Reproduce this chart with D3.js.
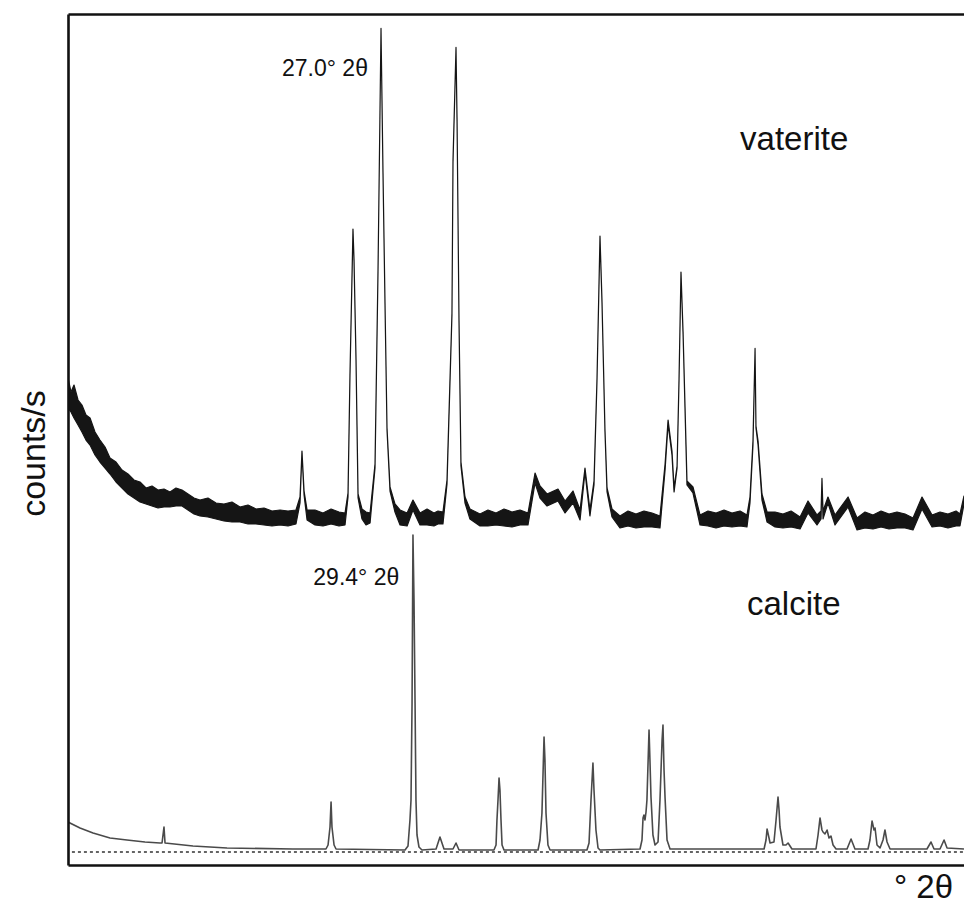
<!DOCTYPE html>
<html>
<head>
<meta charset="utf-8">
<script src="https://cdn.jsdelivr.net/npm/d3@7"></script>
<style>
  body { margin: 0; background: #fff; }
  text { font-family: 'Liberation Sans', Arial, Helvetica, sans-serif; fill: #111; }
</style>
</head>
<body>
<div id="chart"></div>
<script>
// vaterite pattern: [2theta, lower edge of noise, upper edge of noise] in counts/s
const vaterite = [
  [3.00, 2285, 2435], [3.23, 2265, 2365], [3.46, 2235, 2400], [3.77, 2200, 2325],
  [4.07, 2165, 2300], [4.38, 2125, 2250], [4.69, 2100, 2235], [5.07, 2050, 2165],
  [5.45, 2015, 2125], [5.84, 1985, 2090], [6.22, 1955, 2035], [6.68, 1915, 2015],
  [7.14, 1885, 1975], [7.60, 1855, 1955], [8.06, 1835, 1925], [8.52, 1815, 1915],
  [8.98, 1805, 1885], [9.44, 1795, 1895], [9.90, 1785, 1875], [10.36, 1790, 1880],
  [10.82, 1790, 1865], [11.28, 1795, 1885], [11.74, 1795, 1875], [12.20, 1775, 1855],
  [12.66, 1755, 1835], [13.12, 1745, 1825], [13.73, 1740, 1835], [14.35, 1730, 1810],
  [14.96, 1720, 1805], [15.57, 1715, 1815], [16.19, 1715, 1790], [16.80, 1705, 1800],
  [17.41, 1705, 1780], [18.03, 1700, 1785], [18.64, 1695, 1770], [19.26, 1700, 1775],
  [19.87, 1695, 1770], [20.48, 1705, 1775],
  [20.79, 1810, 1840], [20.94, 2060, 2070], [21.10, 1850, 1870], [21.33, 1725, 1775],
  [21.94, 1700, 1775], [22.55, 1695, 1760], [23.17, 1705, 1780], [23.78, 1695, 1765],
  [24.24, 1700, 1760],
  [24.47, 1840, 1860], [24.62, 2445, 2455], [24.85, 3170, 3180], [24.93, 3020, 3030],
  [25.08, 2535, 2545], [25.24, 1835, 1855], [25.54, 1730, 1780], [25.85, 1700, 1765],
  [26.16, 1710, 1760],
  [26.54, 1985, 2005], [26.77, 2965, 2975], [27.00, 4177, 4183], [27.15, 3465, 3475],
  [27.31, 2785, 2795], [27.46, 2175, 2185], [27.69, 1870, 1890], [28.07, 1765, 1805],
  [28.46, 1700, 1775], [29.00, 1695, 1760], [29.45, 1775, 1825], [29.99, 1700, 1760],
  [30.53, 1700, 1780], [31.06, 1695, 1760], [31.37, 1705, 1770], [31.75, 1705, 1765],
  [32.06, 1905, 1925], [32.44, 2750, 2760], [32.52, 3515, 3525], [32.75, 4082, 4088],
  [32.83, 3720, 3730], [32.98, 2715, 2725], [33.13, 1995, 2015], [33.44, 1810, 1840],
  [33.82, 1730, 1780], [34.59, 1695, 1755], [35.20, 1695, 1775], [35.82, 1700, 1760],
  [36.43, 1695, 1780], [37.04, 1690, 1765], [37.66, 1700, 1775], [38.27, 1700, 1760],
  [38.81, 1910, 1960], [39.19, 1835, 1895], [39.73, 1795, 1855], [40.57, 1820, 1880],
  [41.11, 1760, 1820], [41.72, 1810, 1870], [42.26, 1725, 1775], [42.64, 1965, 1985],
  [43.02, 1745, 1775], [43.33, 1900, 1920], [43.56, 2420, 2430], [43.79, 3135, 3145],
  [43.94, 2820, 2830], [44.17, 2170, 2180], [44.33, 1865, 1885], [44.71, 1740, 1780],
  [45.32, 1685, 1745], [45.94, 1695, 1770], [46.55, 1685, 1755], [47.16, 1690, 1770],
  [47.78, 1690, 1760], [48.39, 1685, 1745],
  [48.78, 1975, 2005], [49.01, 2205, 2225], [49.31, 2050, 2070], [49.47, 1865, 1885],
  [49.70, 1985, 1995], [49.85, 2420, 2430], [50.00, 2955, 2965], [50.16, 2655, 2665],
  [50.46, 1900, 1920], [50.92, 1860, 1890], [51.46, 1700, 1750], [52.07, 1695, 1770],
  [52.69, 1685, 1760], [53.30, 1695, 1775], [53.91, 1690, 1760], [54.53, 1695, 1770],
  [55.06, 1690, 1750], [55.29, 1810, 1840], [55.52, 2100, 2120], [55.68, 2577, 2583],
  [55.75, 2185, 2195], [55.91, 2100, 2120], [56.21, 1825, 1855], [56.60, 1715, 1765],
  [57.21, 1690, 1765], [57.82, 1685, 1755], [58.44, 1690, 1770], [59.13, 1680, 1740],
  [59.74, 1760, 1820], [60.43, 1700, 1750], [60.74, 1730, 1770], [60.81, 1927, 1933],
  [60.89, 1730, 1770], [61.27, 1810, 1840], [61.81, 1700, 1750], [62.81, 1790, 1840],
  [63.50, 1675, 1735], [64.11, 1685, 1765], [64.72, 1680, 1750], [65.34, 1690, 1770],
  [65.95, 1680, 1755], [66.56, 1685, 1765], [67.18, 1685, 1755], [67.79, 1675, 1735],
  [68.48, 1780, 1840], [69.25, 1690, 1750], [69.86, 1695, 1765], [70.47, 1685, 1755],
  [71.09, 1695, 1770], [71.39, 1695, 1755], [71.70, 1805, 1845]
]

// calcite pattern: [2theta, counts/s]
const calcite = [
  [3.00, 215], [3.92, 185], [4.92, 160], [6.22, 135], [7.52, 125], [8.90, 115],
  [10.05, 110], [10.21, 110], [10.36, 190], [10.44, 110], [12.58, 95], [15.19, 85],
  [20.25, 80], [22.78, 80], [22.94, 100], [23.09, 190], [23.17, 315], [23.24, 190],
  [23.40, 100], [23.55, 80], [28.84, 75], [29.07, 95], [29.22, 225], [29.30, 325],
  [29.38, 810], [29.45, 1650], [29.53, 1325], [29.61, 810], [29.68, 325], [29.76, 150],
  [29.91, 90], [30.14, 75], [31.22, 80], [31.52, 140], [31.83, 80], [32.52, 80],
  [32.75, 110], [32.98, 75], [35.66, 75], [35.82, 100], [35.89, 225], [35.97, 325],
  [36.05, 435], [36.12, 375], [36.20, 225], [36.28, 100], [36.43, 75], [39.04, 75],
  [39.19, 125], [39.34, 260], [39.50, 640], [39.57, 525], [39.65, 260], [39.80, 100],
  [39.96, 75], [42.79, 75], [42.95, 110], [43.10, 325], [43.25, 510], [43.33, 375],
  [43.48, 175], [43.64, 85], [43.79, 75], [46.86, 80], [47.01, 125], [47.09, 235],
  [47.16, 250], [47.24, 225], [47.32, 265], [47.39, 325], [47.55, 675], [47.62, 525],
  [47.70, 340], [47.85, 150], [48.01, 100], [48.24, 115], [48.39, 325], [48.55, 625],
  [48.62, 700], [48.70, 475], [48.78, 335], [48.93, 125], [49.16, 80], [56.37, 80],
  [56.52, 125], [56.60, 180], [56.75, 135], [56.83, 110], [57.13, 115], [57.29, 225],
  [57.44, 340], [57.52, 275], [57.59, 190], [57.82, 100], [58.05, 100], [58.21, 110],
  [58.51, 80], [60.35, 80], [60.51, 150], [60.66, 235], [60.81, 175], [60.89, 165],
  [61.04, 155], [61.20, 175], [61.35, 135], [61.50, 145], [61.66, 100], [61.89, 80],
  [62.73, 80], [63.04, 130], [63.34, 80], [64.34, 80], [64.49, 125], [64.65, 220],
  [64.80, 175], [64.88, 185], [65.03, 100], [65.26, 85], [65.49, 125], [65.64, 175],
  [65.80, 115], [66.03, 80], [68.86, 80], [69.17, 115], [69.40, 80], [69.86, 80],
  [70.17, 125], [70.40, 85], [71.70, 80]
]

const baselineCounts = 65
const peakLabels = [
  { text: '27.0° 2θ', theta: 27.0, counts: 3945, dx: -99 },
  { text: '29.4° 2θ', theta: 29.4, counts: 1400, dx: -99 }
]
const phaseLabels = [
  { text: 'vaterite', theta: 54.53, counts: 3575 },
  { text: 'calcite', theta: 55.06, counts: 1250 }
]

const margin = { top: 14, right: 0, bottom: 39, left: 68 },
  width = 964 - margin.left - margin.right,
  height = 904 - margin.top - margin.bottom

const svg = d3
  .select('#chart')
  .append('svg')
  .attr('width', 964)
  .attr('height', 904)
  .append('g')
  .attr('transform', `translate(${margin.left}, ${margin.top})`)

const x = d3.scaleLinear().domain([3, 71.7]).range([0, width])
const y = d3.scaleLinear().domain([0, 4255]).range([height, 0])

svg.append('clipPath').attr('id', 'plotClip')
  .append('rect').attr('width', width).attr('height', height)

const plot = svg.append('g').attr('clip-path', 'url(#plotClip)')

// dotted zero line under calcite
plot.append('line')
  .attr('x1', x(3.3)).attr('x2', x(71.7))
  .attr('y1', y(baselineCounts)).attr('y2', y(baselineCounts))
  .attr('stroke', '#333')
  .attr('stroke-width', 1.3)
  .attr('stroke-dasharray', '3,3')

// calcite trace
plot.append('path')
  .datum(calcite)
  .attr('fill', 'none')
  .attr('stroke', '#4a4a4a')
  .attr('stroke-width', 1.6)
  .attr('stroke-linejoin', 'round')
  .attr('d', d3.line().x(d => x(d[0])).y(d => y(d[1])))

// vaterite trace, drawn as noise band
plot.append('path')
  .datum(vaterite)
  .attr('fill', '#151515')
  .attr('stroke', '#151515')
  .attr('stroke-width', 1.2)
  .attr('stroke-linejoin', 'round')
  .attr('d', d3.area().x(d => x(d[0])).y0(d => y(d[1])).y1(d => y(d[2])))

// frame: axes without ticks
svg.append('g')
  .attr('transform', `translate(0, ${height})`)
  .call(d3.axisBottom(x).tickValues([]).tickSizeOuter(0))
svg.append('g')
  .call(d3.axisTop(x).tickValues([]).tickSizeOuter(0))
svg.append('g')
  .call(d3.axisLeft(y).tickValues([]).tickSizeOuter(0))
svg.selectAll('.domain').attr('stroke', '#111').attr('stroke-width', 2.6)

svg.selectAll('text.peak')
  .data(peakLabels)
  .join('text')
  .attr('class', 'peak')
  .attr('x', d => x(d.theta) + d.dx)
  .attr('y', d => y(d.counts))
  .style('font-size', '23px')
  .text(d => d.text)

svg.selectAll('text.phase')
  .data(phaseLabels)
  .join('text')
  .attr('class', 'phase')
  .attr('x', d => x(d.theta))
  .attr('y', d => y(d.counts))
  .style('font-size', '33px')
  .text(d => d.text)

svg.append('text')
  .attr('x', width - 11)
  .attr('y', height + 33)
  .attr('text-anchor', 'end')
  .style('font-size', '33px')
  .text('° 2θ')

svg.append('text')
  .attr('transform', `translate(${-23}, ${height / 2 + 14}) rotate(-90)`)
  .attr('text-anchor', 'middle')
  .style('font-size', '34px')
  .text('counts/s')
</script>
</body>
</html>
